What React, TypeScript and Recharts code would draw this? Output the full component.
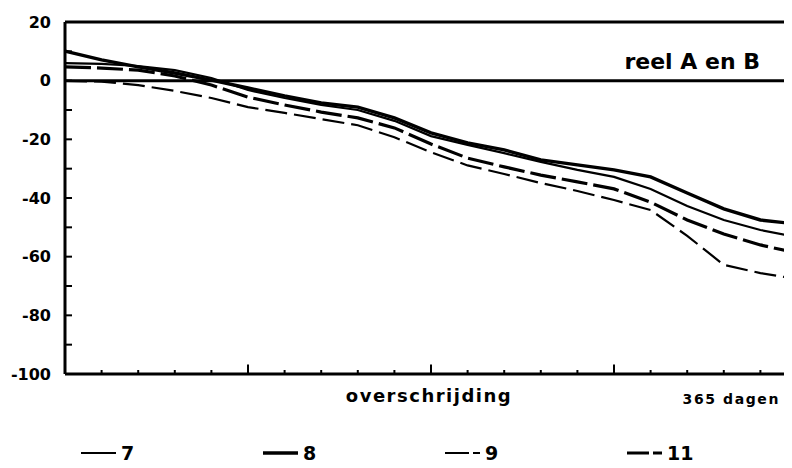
import React from 'react';
import { LineChart, Line, XAxis, YAxis, ReferenceLine, Legend, Label } from 'recharts';

// overschrijding (% of 365 dagen)
const xPct = [0, 5, 10, 15, 20, 25, 30, 35, 40, 45, 50, 55, 60, 65, 70, 75, 80, 85, 90, 95, 100];
const serie7 = [6.0, 5.7, 5.0, 3.6, 0.9, -3.2, -5.9, -8.3, -10.0, -13.7, -18.9, -21.9, -24.7, -27.7, -30.4, -32.8, -36.9, -42.7, -47.5, -50.9, -53.3];
const serie8 = [10.1, 7.1, 4.7, 2.6, 0.2, -2.5, -5.2, -7.6, -9.0, -12.7, -17.8, -21.2, -23.6, -27.0, -28.7, -30.4, -32.8, -38.3, -43.7, -47.5, -48.9];
const serie9 = [-0.1, -0.3, -1.5, -3.5, -5.9, -9.0, -11.0, -13.1, -15.2, -19.3, -24.4, -28.9, -31.8, -34.9, -37.6, -40.7, -44.1, -52.9, -62.8, -65.6, -67.6];
const serie11 = [4.7, 4.3, 3.6, 1.6, -1.5, -5.6, -8.3, -10.7, -12.7, -16.1, -21.6, -26.4, -29.4, -32.2, -34.5, -36.9, -41.4, -47.5, -52.3, -56.0, -58.8];
const seriesNames = ['7', '8', '9', '11'];
const yTicks = [20, 10, 0, -10, -20, -30, -40, -50, -60, -70, -80, -90, -100];
const xTicks = [0, 5, 10, 15, 20, 25, 30, 35, 40, 45, 50, 55, 60, 65, 70, 75, 80, 85, 90, 95, 100];
const majorXTicks = [25, 50, 75];
const panelTitle = 'reel A en B';
const xTitle = 'overschrijding';
const xEndTitle = '365 dagen';

const data = xPct.map((x, i) => ({ x, s7: serie7[i], s8: serie8[i], s9: serie9[i], s11: serie11[i] }));

const FONT = '"DejaVu Sans", "Liberation Sans", sans-serif';

const seriesStyle: Record<string, { key: string; w: number; dash?: string; legendDash?: string }> = {
  '7': { key: 's7', w: 2.2 },
  '8': { key: 's8', w: 3.4 },
  '9': { key: 's9', w: 2.2, dash: '22 7', legendDash: '24 4' },
  '11': { key: 's11', w: 3.2, dash: '26 6', legendDash: '22 4' },
};

const LegendContent = () => (
  <div style={{ position: 'relative', height: 44, width: 800 }}>
    {seriesNames.map((n, i) => {
      const st = seriesStyle[n];
      return (
        <div
          key={n}
          style={{ position: 'absolute', left: 81 + i * 182, top: 19, height: 20, display: 'flex', alignItems: 'center' }}
        >
          <svg width={35} height={20} style={{ display: 'block' }}>
            <line x1={0} x2={35} y1={10} y2={10} stroke="#000" strokeWidth={st.w} strokeDasharray={st.legendDash} />
          </svg>
          <span style={{ marginLeft: 5, fontFamily: FONT, fontWeight: 700, fontSize: 19, lineHeight: '20px', color: '#000' }}>{n}</span>
        </div>
      );
    })}
  </div>
);

const XLabels = (props: any) => {
  const vb = props.viewBox || { x: 65, y: 374, width: 732, height: 50 };
  return (
    <g>
      <text x={vb.x + vb.width / 2 - 2} y={vb.y + 28} textAnchor="middle" fontFamily={FONT} fontWeight={700} fontSize={18} letterSpacing={1.5} fill="#000">
        {xTitle}
      </text>
      <text x={vb.x + vb.width - 17} y={vb.y + 30} textAnchor="end" fontFamily={FONT} fontWeight={700} fontSize={14} letterSpacing={1.6} fill="#000">
        {xEndTitle}
      </text>
    </g>
  );
};

const PanelLabel = (props: any) => {
  const vb = props.viewBox || { x: 65, y: 81, width: 732, height: 0 };
  return (
    <text x={vb.x + vb.width - 37} y={vb.y - 12} textAnchor="end" fontFamily={FONT} fontWeight={700} fontSize={22} fill="#000">
      {panelTitle}
    </text>
  );
};

export default function App() {
  return (
    <div style={{ width: 792, height: 468, overflow: 'hidden', margin: -8, background: '#fff' }}>
      <LineChart width={800} height={468} data={data} margin={{ top: 22, right: 3, bottom: 0, left: 0 }}>
        <XAxis
          dataKey="x"
          type="number"
          domain={[0, 100]}
          ticks={xTicks}
          interval={0}
          tickFormatter={() => ''}
          tickSize={-4}
          height={50}
          axisLine={{ stroke: '#000', strokeWidth: 3 }}
          tickLine={{ stroke: '#000', strokeWidth: 2 }}
        >
          <Label content={XLabels} />
        </XAxis>
        <YAxis
          type="number"
          domain={[-100, 20]}
          ticks={yTicks}
          interval={0}
          width={65}
          tickSize={-7}
          tickMargin={21}
          tickFormatter={(v: number) => (v % 20 === 0 ? String(v) : '')}
          axisLine={{ stroke: '#000', strokeWidth: 3 }}
          tickLine={{ stroke: '#000', strokeWidth: 2 }}
          tick={{ fill: '#000', fontSize: 16, fontWeight: 700, fontFamily: FONT }}
        />
        <ReferenceLine y={20} stroke="#000" strokeWidth={3} />
        <ReferenceLine y={0} stroke="#000" strokeWidth={3}>
          <Label content={PanelLabel} />
        </ReferenceLine>
        {majorXTicks.map((t) => (
          <ReferenceLine key={t} segment={[{ x: t, y: -100 }, { x: t, y: -96.8 }]} stroke="#000" strokeWidth={2} />
        ))}
        {seriesNames.map((n) => {
          const st = seriesStyle[n];
          return (
            <Line
              key={n}
              dataKey={st.key}
              name={n}
              type="linear"
              stroke="#000"
              strokeWidth={st.w}
              strokeDasharray={st.dash}
              dot={false}
              activeDot={false}
              isAnimationActive={false}
            />
          );
        })}
        <Legend verticalAlign="bottom" align="left" content={LegendContent} />
      </LineChart>
    </div>
  );
}
